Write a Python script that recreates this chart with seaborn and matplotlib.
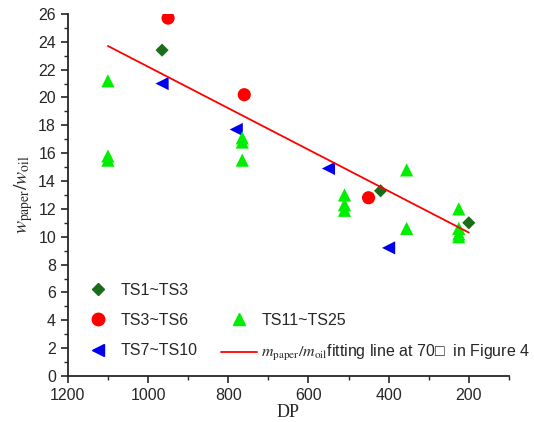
import numpy as np
import pandas as pd
import matplotlib.pyplot as plt
import seaborn as sns
from matplotlib.lines import Line2D
from matplotlib.ticker import MultipleLocator

# --- data ---
ts1_dp = [965, 420, 200]
ts1_w = [23.4, 13.3, 11.0]

ts3_dp = [950, 760, 450]
ts3_w = [25.7, 20.2, 12.8]

ts7_dp = [965, 780, 550, 400]
ts7_w = [21.0, 17.7, 14.9, 9.2]

ts11_dp = [1100, 1100, 1100, 765, 765, 765, 510, 510, 510, 355, 355, 225, 225, 225, 225]
ts11_w = [21.2, 15.8, 15.5, 17.1, 16.8, 15.5, 13.0, 12.3, 11.9, 14.8, 10.6, 12.0, 10.6, 10.2, 10.0]

fit_dp = [1100, 200]
fit_w = [23.7, 10.3]

sns.set_style("ticks")
plt.rcParams['font.family'] = ['Liberation Sans', 'DejaVu Sans']
plt.rcParams['mathtext.fontset'] = 'stix'

fig = plt.figure(figsize=(5.34, 4.22), dpi=100)
ax = fig.add_axes([0.127, 0.109, 0.826, 0.858])

sns.scatterplot(x=ts1_dp, y=ts1_w, marker='D', color='#1a6e1a', s=45, edgecolor='none', ax=ax)
sns.scatterplot(x=ts3_dp, y=ts3_w, marker='o', color='#ff0000', s=90, edgecolor='none', ax=ax)
sns.scatterplot(x=ts7_dp, y=ts7_w, marker='<', color='#0000ee', s=90, edgecolor='none', ax=ax)
sns.scatterplot(x=ts11_dp, y=ts11_w, marker='^', color='#00ee00', s=90, edgecolor='none', ax=ax)
sns.lineplot(x=fit_dp, y=fit_w, color='#ff0000', linewidth=1.3, ax=ax)

ax.set_xlim(1200, 100)
ax.set_ylim(0, 26)
ax.xaxis.set_major_locator(MultipleLocator(200))
ax.xaxis.set_minor_locator(MultipleLocator(100))
ax.yaxis.set_major_locator(MultipleLocator(2))
ax.yaxis.set_minor_locator(MultipleLocator(1))
ax.set_xticks([1200, 1000, 800, 600, 400, 200])
ax.tick_params(which='major', direction='out', length=5, width=1.2, labelsize=11.5)
ax.tick_params(which='minor', direction='out', length=3, width=1.0)
sns.despine(ax=ax)
for sp in ['left', 'bottom']:
    ax.spines[sp].set_linewidth(1.3)

ax.set_xlabel('DP', fontsize=13, family='Liberation Serif', labelpad=1)
ax.set_ylabel(r'$w_{\mathrm{paper}}/w_{\mathrm{oil}}$', fontsize=14, labelpad=2)

handles = [
    Line2D([], [], marker='D', color='#1a6e1a', linestyle='none', markersize=6),
    Line2D([], [], marker='o', color='#ff0000', linestyle='none', markersize=9),
    Line2D([], [], marker='<', color='#0000ee', linestyle='none', markersize=9),
    Line2D([], [], linestyle='none'),
    Line2D([], [], marker='^', color='#00ee00', linestyle='none', markersize=9),
    Line2D([], [], color='#ff0000', linewidth=1.3),
]
labels = ['TS1~TS3', 'TS3~TS6', 'TS7~TS10', '',
          'TS11~TS25',
          r'$m_{\mathrm{paper}}/m_{\mathrm{oil}}$fitting line at 70□  in Figure 4']
ax.legend(handles, labels, ncol=2, loc='lower left', bbox_to_anchor=(0.0, 0.0),
          frameon=False, fontsize=11.5, handlelength=2.2, labelspacing=0.95,
          columnspacing=1.5, handletextpad=0.3, borderpad=0.5, borderaxespad=0.3)

fig.savefig('out.png', dpi=100)
